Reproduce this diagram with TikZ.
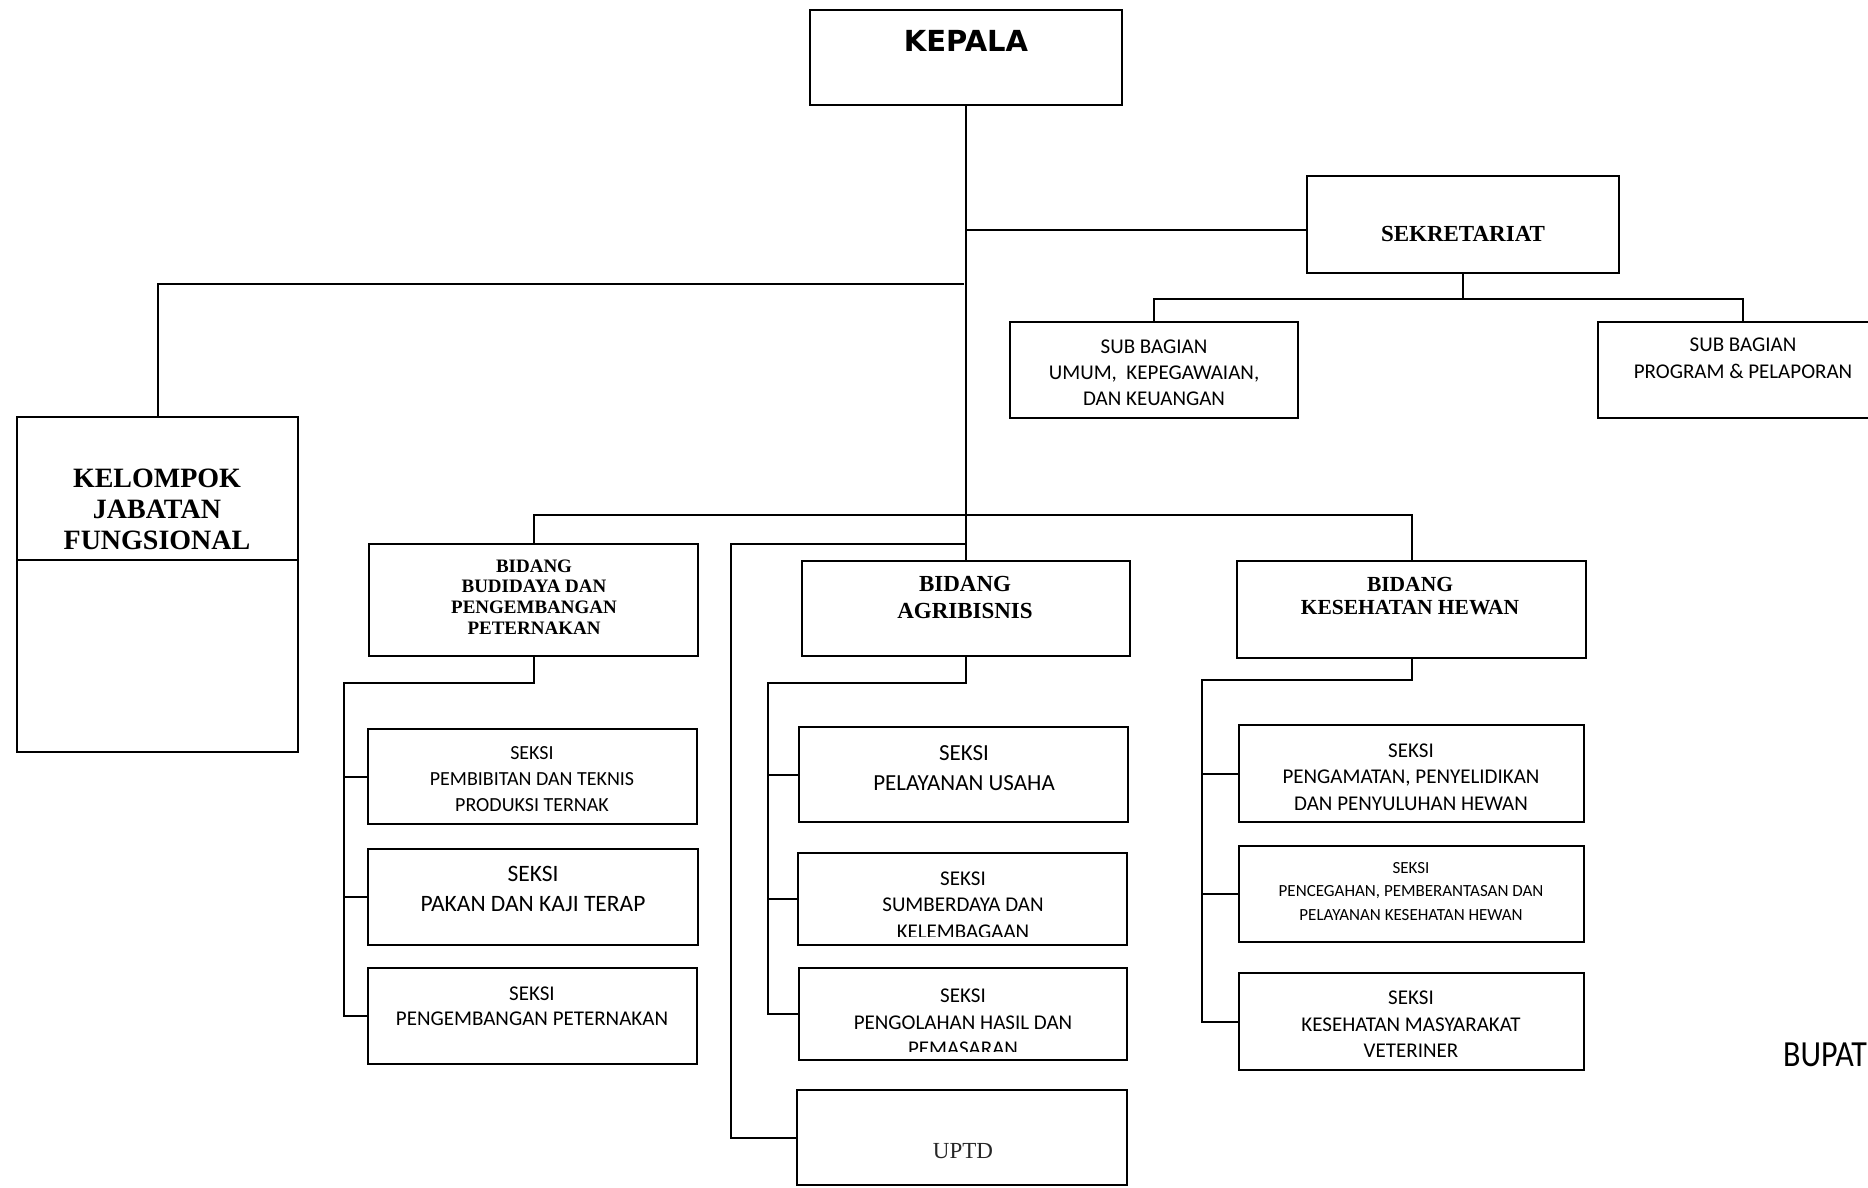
\documentclass[tikz,border=0pt]{standalone}
\usepackage{fontspec}
\setmainfont{Liberation Serif}
\newfontfamily\calfont{Carlito}
\newfontfamily\headfont{DejaVu Sans}
\usetikzlibrary{calc}

% box from its corners: name, x1, y1, x2, y2
\newcommand\orgbox[5]{%
  \pgfmathsetmacro\obw{#4-#2}\pgfmathsetmacro\obh{#5-#3}%
  \pgfmathsetmacro\obx{(#2+#4)/2}\pgfmathsetmacro\oby{(#3+#5)/2}%
  \node[box, minimum width=\obw pt, minimum height=\obh pt] (#1) at (\obx,\oby) {};}

\begin{document}
\begin{tikzpicture}[x=1pt,y=-1pt,
  box/.style={draw, line width=2pt, rectangle, inner sep=0pt},
  wire/.style={line width=2pt},
  lbl/.style={inner sep=0pt, align=center},
]
\useasboundingbox (0,0) rectangle (1868,1187);
\clip (0,0) rectangle (1868,1187);

% ---- boxes ----
\orgbox{kepala}{810}{9.5}{1122}{105}
\orgbox{sekretariat}{1307}{176}{1619}{273}
\orgbox{subumum}{1010}{322}{1298}{418}
\orgbox{subprog}{1598}{322}{1888}{418}
\orgbox{kelompok}{17}{417}{298}{752}
\orgbox{budidaya}{369}{544}{698}{656}
\orgbox{agribisnis}{802}{561}{1130}{656}
\orgbox{keswan}{1237}{561}{1586}{658}
\orgbox{pembibitan}{368}{729}{697}{824}
\orgbox{pakan}{368}{849}{698}{945}
\orgbox{pengembangan}{368}{968}{697}{1064}
\orgbox{pelayanan}{799}{727}{1128}{822}
\orgbox{sumberdaya}{798}{853}{1127}{945}
\orgbox{pengolahan}{799}{968}{1127}{1060}
\orgbox{uptd}{797}{1090}{1127}{1185}
\orgbox{pengamatan}{1239}{725}{1584}{822}
\orgbox{pencegahan}{1239}{846}{1584}{942}
\orgbox{kesmas}{1239}{973}{1584}{1070}

% divider inside the functional group box
\path (kelompok.north west) ++(0,144) coordinate (kdiv);
\draw[wire] (kdiv) -- (kdiv -| kelompok.east);

% ---- texts ----
\node[lbl, font=\headfont\bfseries\fontsize{29}{34}\selectfont] (kepala-t) at (966,41) {KEPALA};
\node[lbl, font=\bfseries\fontsize{23}{27}\selectfont] (sekretariat-t) at (1463,233.5) {SEKRETARIAT};
\node[lbl, font=\calfont\fontsize{21}{26}\selectfont] (subumum-t) at (1154,373) {SUB BAGIAN\\UMUM,\ \ KEPEGAWAIAN,\\DAN KEUANGAN};
\node[lbl, font=\calfont\fontsize{21}{27}\selectfont] (subprog-t) at (1743,358.5) {SUB BAGIAN\\PROGRAM \& PELAPORAN};
\node[lbl, font=\bfseries\fontsize{28}{31}\selectfont] (kelompok-t) at (157,509) {KELOMPOK\\JABATAN\\FUNGSIONAL};
\node[lbl, font=\bfseries\fontsize{19}{20.7}\selectfont] (budidaya-t) at (534,597) {BIDANG\\BUDIDAYA DAN\\PENGEMBANGAN\\PETERNAKAN};
\node[lbl, font=\bfseries\fontsize{23}{27}\selectfont] (agribisnis-t) at (965,597.5) {BIDANG\\AGRIBISNIS};
\node[lbl, font=\bfseries\fontsize{21.5}{23.5}\selectfont] (keswan-t) at (1410,596) {BIDANG\\KESEHATAN HEWAN};

\node[lbl, font=\calfont\fontsize{20}{26}\selectfont] (pembibitan-t) at (532,779) {SEKSI\\PEMBIBITAN DAN TEKNIS\\PRODUKSI TERNAK};
\node[lbl, font=\calfont\fontsize{23.5}{30}\selectfont] (pakan-t) at (533,889) {SEKSI\\PAKAN DAN KAJI TERAP};
\node[lbl, font=\calfont\fontsize{21}{25}\selectfont] (pengembangan-t) at (532,1006) {SEKSI\\PENGEMBANGAN PETERNAKAN};

\node[lbl, font=\calfont\fontsize{23}{30}\selectfont] (pelayanan-t) at (964,768) {SEKSI\\PELAYANAN USAHA};
% the last line of these two sections runs past the box bottom and is cut off
\begin{scope}
  \clip (sumberdaya.north west) rectangle ($(sumberdaya.south east)+(0,-10)$);
  \node[lbl, font=\calfont\fontsize{21}{26.5}\selectfont] (sumberdaya-t) at (963,905) {SEKSI\\SUMBERDAYA DAN\\KELEMBAGAAN};
\end{scope}
\begin{scope}
  \clip (pengolahan.north west) rectangle ($(pengolahan.south east)+(0,-10)$);
  \node[lbl, font=\calfont\fontsize{21}{26.5}\selectfont] (pengolahan-t) at (963,1022.5) {SEKSI\\PENGOLAHAN HASIL DAN\\PEMASARAN};
\end{scope}
\node[lbl, font=\fontsize{23}{27}\selectfont, text=black!85] (uptd-t) at (963,1151) {UPTD};

\node[lbl, font=\calfont\fontsize{21}{26.5}\selectfont] (pengamatan-t) at (1411,777) {SEKSI\\PENGAMATAN, PENYELIDIKAN\\DAN PENYULUHAN HEWAN};
\node[lbl, font=\calfont\fontsize{17}{23.5}\selectfont] (pencegahan-t) at (1411,891.5) {SEKSI\\PENCEGAHAN, PEMBERANTASAN DAN\\PELAYANAN KESEHATAN HEWAN};
\node[lbl, font=\calfont\fontsize{21}{26.5}\selectfont] (kesmas-t) at (1411,1024.5) {SEKSI\\KESEHATAN MASYARAKAT\\VETERINER};

\node[lbl, anchor=west, font=\calfont\fontsize{32}{36}\selectfont] (bupati) at (1783,1055) {\scalebox{1}[1.15]{BUPAT}};

% ---- connectors ----
\draw[wire] (kepala.south) -- (kepala.south |- agribisnis.north);

\coordinate (jSek) at (966,230);
\draw[wire] (jSek) -- (jSek -| sekretariat.west);
\coordinate (sBus) at (1463,299);
\draw[wire] (sekretariat.south) -- (sBus);
\draw[wire] (subumum.north) |- (sBus) -| (subprog.north);

\coordinate (jKel) at (964,283.5);
\draw[wire] (jKel) -| (kelompok.north);

\coordinate (jBid) at (966,515);
\draw[wire] (budidaya.north) |- (jBid) -| (keswan.north);

\coordinate (jUpt) at (966,544);
\coordinate (uBus) at (731,544);
\draw[wire] (jUpt) -- (uBus) |- (uptd.west);

\coordinate (bBus) at (344,683);
\draw[wire] (budidaya.south) |- (bBus) |- (pengembangan.west);
\draw[wire] (bBus |- pembibitan.west) -- (pembibitan.west);
\draw[wire] (bBus |- pakan.west) -- (pakan.west);

\coordinate (aBus) at (768,683);
\draw[wire] (agribisnis.south) |- (aBus) |- (pengolahan.west);
\draw[wire] (aBus |- pelayanan.west) -- (pelayanan.west);
\draw[wire] (aBus |- sumberdaya.west) -- (sumberdaya.west);

\coordinate (kBus) at (1202,680);
\draw[wire] (keswan.south) |- (kBus) |- (kesmas.west);
\draw[wire] (kBus |- pengamatan.west) -- (pengamatan.west);
\draw[wire] (kBus |- pencegahan.west) -- (pencegahan.west);
\end{tikzpicture}
\end{document}
